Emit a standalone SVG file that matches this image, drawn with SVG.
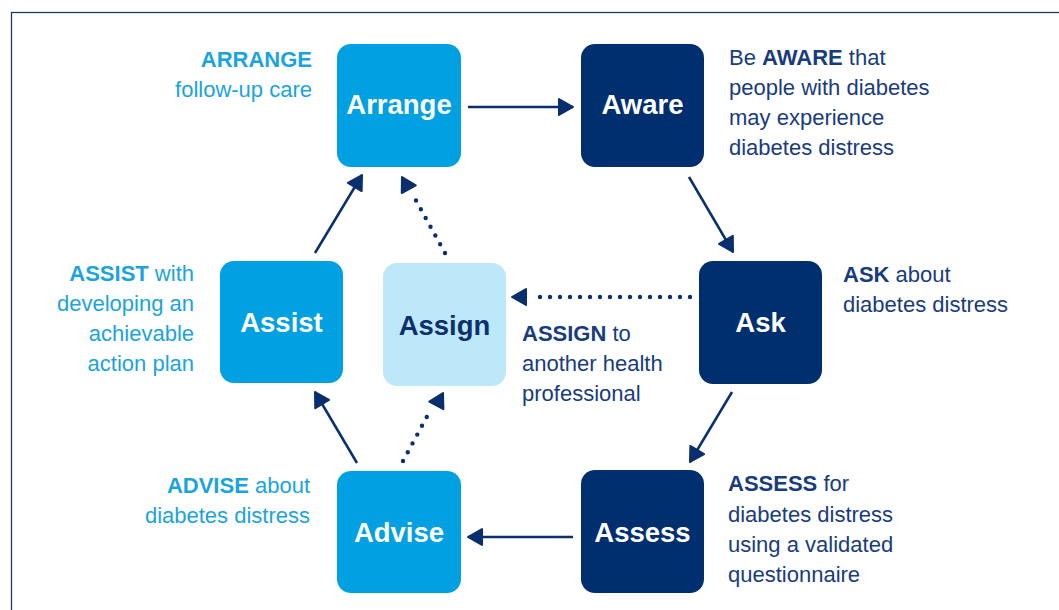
<svg xmlns="http://www.w3.org/2000/svg" xmlns:xlink="http://www.w3.org/1999/xlink" width="1059" height="610" viewBox="0 0 1059 610">
  <style>
    .frame { fill: none; stroke: #1f3864; stroke-width: 1.3; }
    .box-light { fill: #00a0e3; }
    .box-dark { fill: #002f6f; }
    .box-pale { fill: #bde8fa; }
    .label { font-family: "Liberation Sans", Arial, sans-serif; font-weight: bold; font-size: 27.5px; text-anchor: middle; }
    .label-w { fill: #ffffff; }
    .label-n { fill: #0d2f6e; }
    .note { font-family: "Liberation Sans", Arial, sans-serif; font-size: 22px; }
    .note-l { fill: #1ba3e1; }
    .note-d { fill: #183c7e; }
    .note .b { font-weight: bold; }
    .end { text-anchor: end; }
    .link { fill: none; stroke: #0a2f6e; stroke-width: 2.5; }
    .dots { fill: none; stroke: #0a2f6e; stroke-width: 4.4; stroke-linecap: round; stroke-dasharray: 0 10; }
    .head { fill: #0a2f6e; stroke: #0a2f6e; stroke-width: 2; stroke-linejoin: round; }
  </style>
  <defs>
    <marker id="arrow" viewBox="0 0 18 20" markerWidth="18" markerHeight="20" refX="16" refY="10" orient="auto" markerUnits="userSpaceOnUse">
      <path class="head" d="M2,2 L16,10 L2,18 Z"/>
    </marker>
    <!-- free-standing arrowhead, tip at the origin, pointing along +x -->
    <path id="tip" class="head" d="M0,0 L-14,-8 L-14,8 Z"/>
  </defs>

  <rect class="frame" x="11.5" y="12.5" width="1100" height="700"/>

  <g id="connectors">
    <line class="link" x1="468" y1="107" x2="573" y2="107" marker-end="url(#arrow)"/>
    <line class="link" x1="689" y1="177" x2="733" y2="252" marker-end="url(#arrow)"/>
    <line class="link" x1="732" y1="392" x2="690" y2="462" marker-end="url(#arrow)"/>
    <line class="link" x1="573" y1="537" x2="468" y2="537" marker-end="url(#arrow)"/>
    <line class="link" x1="357" y1="463" x2="315" y2="392" marker-end="url(#arrow)"/>
    <line class="link" x1="315" y1="253" x2="362" y2="175" marker-end="url(#arrow)"/>

    <!-- Ask to Assign -->
    <line class="dots" x1="690" y1="297" x2="535" y2="297"/>
    <use xlink:href="#tip" transform="translate(512,297) rotate(180)"/>
    <!-- Assign to Arrange -->
    <line class="dots" x1="445" y1="253" x2="413" y2="195"/>
    <use xlink:href="#tip" transform="translate(402,177) rotate(-118.9)"/>
    <!-- Advise to Assign -->
    <line class="dots" x1="403" y1="461" x2="430" y2="411"/>
    <use xlink:href="#tip" transform="translate(443,393) rotate(-61.6)"/>
  </g>

  <g id="arrange">
    <rect class="box-light" x="337" y="44" width="124" height="123" rx="14"/>
    <text class="label label-w" x="399" y="114">Arrange</text>
    <text class="note note-l end" x="312" y="67"><tspan class="b">ARRANGE</tspan></text>
    <text class="note note-l end" x="312" y="97">follow-up care</text>
  </g>

  <g id="aware">
    <rect class="box-dark" x="581" y="44" width="123" height="123" rx="14"/>
    <text class="label label-w" x="642.5" y="114">Aware</text>
    <text class="note note-d" x="729" y="65">Be <tspan class="b">AWARE</tspan> that</text>
    <text class="note note-d" x="729" y="95">people with diabetes</text>
    <text class="note note-d" x="729" y="125">may experience</text>
    <text class="note note-d" x="729" y="155">diabetes distress</text>
  </g>

  <g id="ask">
    <rect class="box-dark" x="699" y="261" width="123" height="123" rx="14"/>
    <text class="label label-w" x="760.5" y="332">Ask</text>
    <text class="note note-d" x="843" y="282"><tspan class="b">ASK</tspan> about</text>
    <text class="note note-d" x="843" y="312">diabetes distress</text>
  </g>

  <g id="assess">
    <rect class="box-dark" x="581" y="470" width="123" height="123" rx="14"/>
    <text class="label label-w" x="642.5" y="542">Assess</text>
    <text class="note note-d" x="728" y="491"><tspan class="b">ASSESS</tspan> for</text>
    <text class="note note-d" x="728" y="522">diabetes distress</text>
    <text class="note note-d" x="728" y="552">using a validated</text>
    <text class="note note-d" x="728" y="582">questionnaire</text>
  </g>

  <g id="advise">
    <rect class="box-light" x="337" y="471" width="124" height="122" rx="14"/>
    <text class="label label-w" x="399" y="542">Advise</text>
    <text class="note note-l end" x="310" y="493"><tspan class="b">ADVISE</tspan> about</text>
    <text class="note note-l end" x="310" y="523">diabetes distress</text>
  </g>

  <g id="assist">
    <rect class="box-light" x="220" y="261" width="123" height="122" rx="14"/>
    <text class="label label-w" x="281.5" y="332">Assist</text>
    <text class="note note-l end" x="194" y="281"><tspan class="b">ASSIST</tspan> with</text>
    <text class="note note-l end" x="194" y="311">developing an</text>
    <text class="note note-l end" x="194" y="341">achievable</text>
    <text class="note note-l end" x="194" y="371">action plan</text>
  </g>

  <g id="assign">
    <rect class="box-pale" x="383" y="263" width="123" height="123" rx="14"/>
    <text class="label label-n" x="444.5" y="335">Assign</text>
    <text class="note note-d" x="522" y="341"><tspan class="b">ASSIGN</tspan> to</text>
    <text class="note note-d" x="522" y="371">another health</text>
    <text class="note note-d" x="522" y="401">professional</text>
  </g>
</svg>
